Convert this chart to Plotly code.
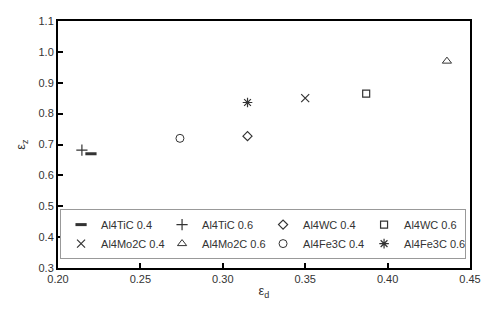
import plotly.graph_objects as go

series_names = ["Al4TiC 0.4", "Al4TiC 0.6", "Al4WC 0.4", "Al4WC 0.6",
                "Al4Mo2C 0.4", "Al4Mo2C 0.6", "Al4Fe3C 0.4", "Al4Fe3C 0.6"]
eps_d = [0.220, 0.2145, 0.315, 0.387, 0.350, 0.436, 0.274, 0.315]
eps_z = [0.670, 0.682, 0.727, 0.865, 0.850, 0.970, 0.720, 0.836]

x_ticks = [0.20, 0.25, 0.30, 0.35, 0.40, 0.45]
y_ticks = [0.3, 0.4, 0.5, 0.6, 0.7, 0.8, 0.9, 1.0, 1.1]

symbols = ["line-ew", "cross-thin", "diamond-open", "square-open",
           "x-thin", "triangle-up-open", "circle-open", "asterisk"]
sizes = [8, 8, 7, 7, 8, 8, 8, 8]
lwidths = [3, 1.2, 1.2, 1.2, 1.2, 1.0, 1.0, 1.2]
mcol = "#333333"

fig = go.Figure()
for name, xv, yv, sym, sz, lw in zip(series_names, eps_d, eps_z, symbols, sizes, lwidths):
    fig.add_trace(go.Scatter(
        x=[xv], y=[yv], mode="markers", name=name,
        marker=dict(symbol=sym, size=sz, color=mcol,
                    line=dict(color=mcol, width=lw)),
    ))

axis_common = dict(
    showline=True, linecolor="black", linewidth=2, mirror=True,
    ticks="inside", ticklen=5, tickwidth=1.5, tickcolor="black",
    showgrid=False, zeroline=False,
    tickfont=dict(family="Liberation Sans, Arial", size=11, color="#333333"),
)

fig.update_layout(
    width=480, height=299,
    margin=dict(l=50, r=15, t=7, b=39),
    paper_bgcolor="white", plot_bgcolor="white",
    font=dict(family="Liberation Sans, Arial", size=11, color="#333333"),
    xaxis=dict(range=[0.20, 0.45], tickvals=x_ticks,
               ticktext=[f"{v:.2f}" for v in x_ticks],
               title=dict(text="ε<sub>d</sub>", standoff=2,
                          font=dict(size=13)),
               **axis_common),
    yaxis=dict(range=[0.3, 1.1], tickvals=y_ticks,
               ticktext=[f"{v:.1f}" for v in y_ticks],
               title=dict(text="ε<sub>z</sub>", standoff=10,
                          font=dict(size=13)),
               **axis_common),
    legend=dict(
        orientation="h", x=0.005, y=0.036, xanchor="left", yanchor="bottom",
        bgcolor="white", bordercolor="#999999", borderwidth=1,
        font=dict(size=11, color="#333333"),
        entrywidth=56, entrywidthmode="pixels", itemwidth=30,
        tracegroupgap=0,
    ),
    showlegend=True,
)

fig.write_html("out.html")
